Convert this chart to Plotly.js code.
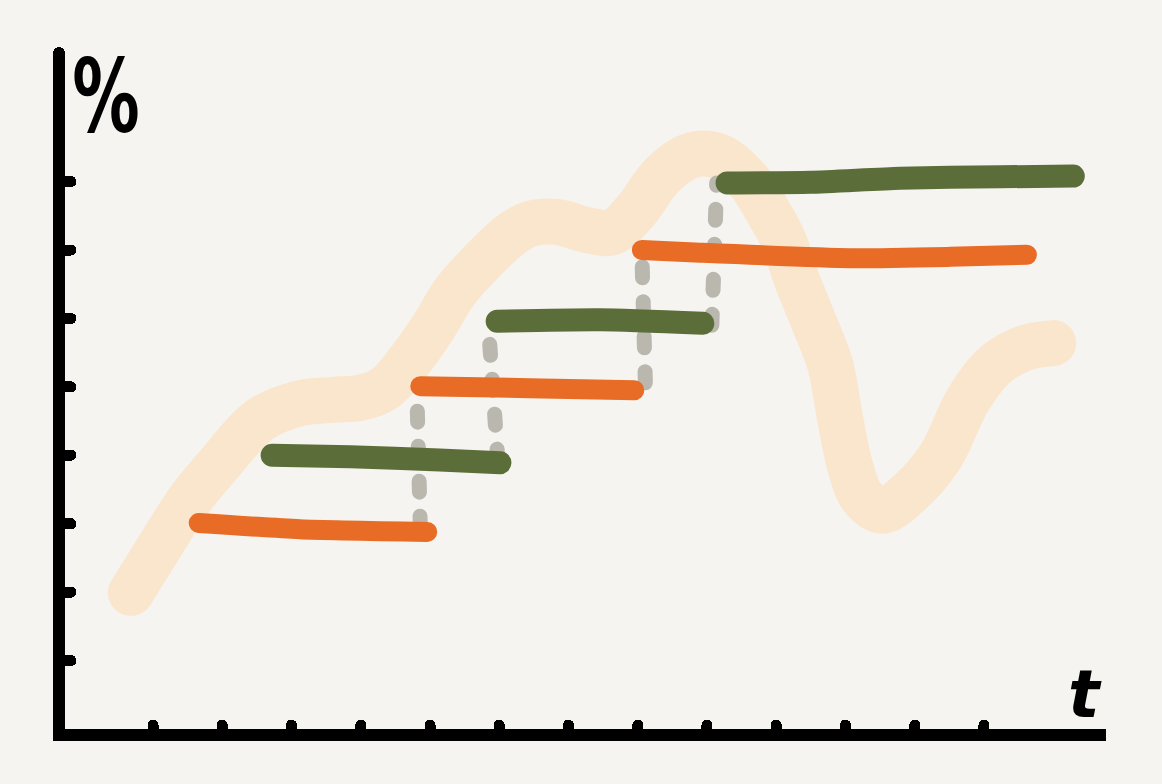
<!DOCTYPE html>
<html>
<head>
<meta charset="utf-8">
<script src="https://cdn.plot.ly/plotly-3.0.1.min.js"></script>
<style>
html,body{margin:0;padding:0;background:#f5f4f0;}
#chart{width:1162px;height:784px;}
</style>
</head>
<body>
<div id="chart"></div>
<script>
// ---- data (t = time units, v = percent units) ----
const xTickVals = [1,2,3,4,5,6,7,8,9,10,11,12,13];
const yTickVals = [1,2,3,4,5,6,7,8];

const peachT = [0.68,1.00,1.53,1.92,2.55,3.12,3.60,3.99,4.35,4.71,5.04,5.36,5.75,6.16,6.44,6.83,7.27,7.63,7.96,8.37,8.80,9.19,9.59,9.91,10.10,10.30,10.53,10.78,10.92,11.07,11.24,11.53,11.93,12.37,12.77,13.16,13.59,14.00];
const peachV = [1.99,2.51,3.35,3.83,4.52,4.76,4.81,4.84,4.98,5.39,5.86,6.39,6.83,7.22,7.38,7.41,7.29,7.26,7.56,8.11,8.39,8.36,8.02,7.51,7.15,6.56,5.98,5.32,4.55,3.83,3.39,3.19,3.46,3.98,4.81,5.32,5.57,5.64];

const orangeT = [1.66,3.12,4.96,null,4.86,6.44,7.95,null,8.06,8.90,11.07,12.51,13.62];
const orangeV = [3.01,2.92,2.88,null,5.01,4.98,4.95,null,7.00,6.96,6.88,6.90,6.93];

const greenT = [2.72,3.85,5.14,6.01,null,5.97,7.46,8.94,null,9.29,10.49,11.79,13.23,14.29];
const greenV = [4.00,3.98,3.93,3.89,null,5.96,5.98,5.93,null,7.98,7.99,8.05,8.07,8.08];

const linkT = [4.86,4.81,null,5.98,5.84,null,8.11,8.06,null,9.07,9.14];
const linkV = [2.95,4.93,null,3.93,5.95,null,5.06,6.93,null,5.90,7.98];

const yLabel = '%';
const xLabel = 't';

// ---- traces ----
const traces = [
  {x: peachT, y: peachV, mode: 'lines', type: 'scatter',
   line: {color: '#fae6cd', width: 46, shape: 'spline', smoothing: 1}, hoverinfo: 'skip'},
  {x: linkT, y: linkV, mode: 'lines', type: 'scatter', connectgaps: false,
   line: {color: '#b9b7ae', width: 15, dash: '11px,24px'}, hoverinfo: 'skip'},
  {x: orangeT, y: orangeV, mode: 'lines', type: 'scatter', connectgaps: false,
   line: {color: '#e86b26', width: 20, shape: 'spline', smoothing: 0.6}, hoverinfo: 'skip'},
  {x: greenT, y: greenV, mode: 'lines', type: 'scatter', connectgaps: false,
   line: {color: '#5b6e39', width: 23, shape: 'spline', smoothing: 0.6}, hoverinfo: 'skip'}
];

const axisCommon = {
  showline: true, linewidth: 12, linecolor: '#000000',
  ticks: 'inside', tickwidth: 11, tickcolor: '#000000',
  showticklabels: false, showgrid: false, zeroline: false, fixedrange: true
};

const layout = {
  width: 1162, height: 784,
  margin: {l: 65, r: 56, t: 53, b: 55, pad: 0},
  paper_bgcolor: '#f5f4f0', plot_bgcolor: '#f5f4f0',
  showlegend: false,
  xaxis: Object.assign({}, axisCommon, {range: [-0.2708, 14.762], tickvals: xTickVals, ticklen: 4}),
  yaxis: Object.assign({}, axisCommon, {range: [0, 9.879], tickvals: yTickVals, ticklen: 6}),
  annotations: [
    {text: yLabel, x: 0.32, y: 9.25, xref: 'x', yref: 'y', showarrow: false,
     xanchor: 'center', yanchor: 'middle',
     font: {family: '"DejaVu Sans", sans-serif', size: 102, color: '#000000', weight: 'bold'}},
    {text: xLabel, x: 14.46, y: 0.51, xref: 'x', yref: 'y', showarrow: false,
     xanchor: 'center', yanchor: 'middle',
     font: {family: '"DejaVu Sans", sans-serif', size: 66, color: '#000000', weight: 'bold', style: 'italic'}}
  ]
};

Plotly.newPlot('chart', traces, layout, {staticPlot: true, displayModeBar: false}).then(function (gd) {
  gd.querySelectorAll('.scatterlayer path.js-line').forEach(function (p) {
    p.style.strokeLinecap = 'round';
    p.style.strokeLinejoin = 'round';
  });
  gd.querySelectorAll('path.xtick, path.ytick').forEach(function (p) {
    p.style.strokeLinecap = 'round';
  });
  gd.querySelectorAll('[class*="ylines"]').forEach(function (p) {
    p.style.strokeLinecap = 'round';
  });
  // narrow the hand-lettered "%" label horizontally around its own centre
  var labels = gd.querySelectorAll('.annotation-text');
  if (labels.length) {
    var txt = labels[0];
    var bb = txt.getBBox();
    var cx = bb.x + bb.width / 2;
    txt.setAttribute('transform', 'translate(' + cx + ',0) scale(0.66,1) translate(' + (-cx) + ',0)');
  }
});
</script>
</body>
</html>
